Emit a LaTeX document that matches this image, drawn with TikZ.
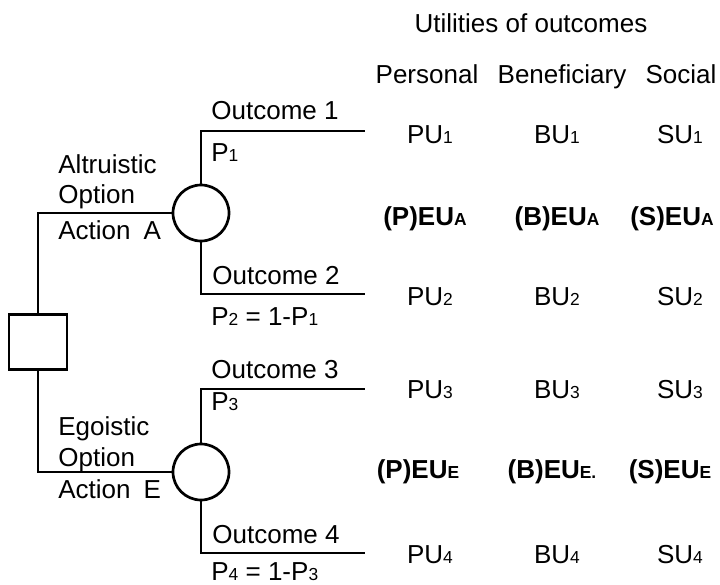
\documentclass[tikz,border=0pt]{standalone}
\usepackage{fontspec}
\setmainfont{Liberation Sans}
\usepackage{tikz}
\usetikzlibrary{positioning}

\newcommand{\lowsub}[1]{\raisebox{-0.4pt}{\fontsize{8.7}{9}\selectfont #1}}

\begin{document}
\begin{tikzpicture}[
      x=0.5pt, y=-0.5pt,
      every node/.style={font=\fontsize{13}{15}\selectfont, inner sep=0pt},
      branch/.style={line width=1.35pt},
      chance/.style={
        draw,
        circle,
        line width=1.35pt,
        minimum size=28pt
      },
      decision/.style={
        draw,
        rectangle,
        line width=1.35pt,
        minimum width=29pt,
        minimum height=27.5pt
      },
      lbl/.style={anchor=base west},
      util/.style={anchor=base},
      eu/.style={anchor=base, font=\fontsize{13}{15}\selectfont\bfseries}
    ]
    \useasboundingbox (0,0) rectangle (720,585);
    %% Decision and chance nodes
    \node[decision] (dec) at (38,342) {};
    \node[chance] (chA) at (201,213) {};
    \node[chance] (chE) at (201,472) {};
    %% Ends of the outcome branches
    \coordinate (o1) at (365,131);
    \coordinate (o2) at (365,294);
    \coordinate (o3) at (365,389);
    \coordinate (o4) at (365,553);
    %% Branches
    \draw[branch] (dec.north) |- (chA.west);
    \draw[branch] (dec.south) |- (chE.west);
    \draw[branch] (chA.north) |- (o1);
    \draw[branch] (chA.south) |- (o2);
    \draw[branch] (chE.north) |- (o3);
    \draw[branch] (chE.south) |- (o4);
    %% Option labels
    \node[lbl] (alt) at (58,173) {Altruistic};
    \node[lbl] (alt-opt) at (58,203) {Option};
    \node[lbl] (act-a) at (58,239) {Action\hspace{0.5em}A};
    \node[lbl] (ego) at (58,435) {Egoistic};
    \node[lbl] (ego-opt) at (58,466) {Option};
    \node[lbl] (act-e) at (58,498) {Action\hspace{0.5em}E};
    %% Outcome labels
    \node[lbl] (out-1) at (211,119) {Outcome 1};
    \node[lbl] (p-1) at (211,161) {P\lowsub{1}};
    \node[lbl] (out-2) at (212,284) {Outcome 2};
    \node[lbl] (p-2) at (211,325) {P\lowsub{2} = 1-P\lowsub{1}};
    \node[lbl] (out-3) at (211,378) {Outcome 3};
    \node[lbl] (p-3) at (211,410) {P\lowsub{3}};
    \node[lbl] (out-4) at (212,543) {Outcome 4};
    \node[lbl] (p-4) at (211,580) {P\lowsub{4} = 1-P\lowsub{3}};
    %% Utilities
    \node[util] (title) at (531,32) {Utilities of outcomes};
    \node[util] (h-p) at (427,83) {Personal};
    \node[util] (h-b) at (562,83) {Beneficiary};
    \node[util] (h-s) at (681,83) {Social};
    \node[util] (pu-1) at (430,143) {PU\lowsub{1}};
    \node[util] (bu-1) at (557,143) {BU\lowsub{1}};
    \node[util] (su-1) at (680,143) {SU\lowsub{1}};
    \node[eu] (peu-a) at (425,225) {(P)EU\lowsub{A}};
    \node[eu] (beu-a) at (557,225) {(B)EU\lowsub{A}};
    \node[eu] (seu-a) at (672,225) {(S)EU\lowsub{A}};
    \node[util] (pu-2) at (430,305) {PU\lowsub{2}};
    \node[util] (bu-2) at (557,305) {BU\lowsub{2}};
    \node[util] (su-2) at (680,305) {SU\lowsub{2}};
    \node[util] (pu-3) at (430,398) {PU\lowsub{3}};
    \node[util] (bu-3) at (557,398) {BU\lowsub{3}};
    \node[util] (su-3) at (680,398) {SU\lowsub{3}};
    \node[eu] (peu-e) at (418,478) {(P)EU\lowsub{E}};
    \node[eu] (beu-e) at (552,478) {(B)EU\lowsub{E.}};
    \node[eu] (seu-e) at (670,478) {(S)EU\lowsub{E}};
    \node[util] (pu-4) at (430,563) {PU\lowsub{4}};
    \node[util] (bu-4) at (557,563) {BU\lowsub{4}};
    \node[util] (su-4) at (680,563) {SU\lowsub{4}};
  \end{tikzpicture}
\end{document}
